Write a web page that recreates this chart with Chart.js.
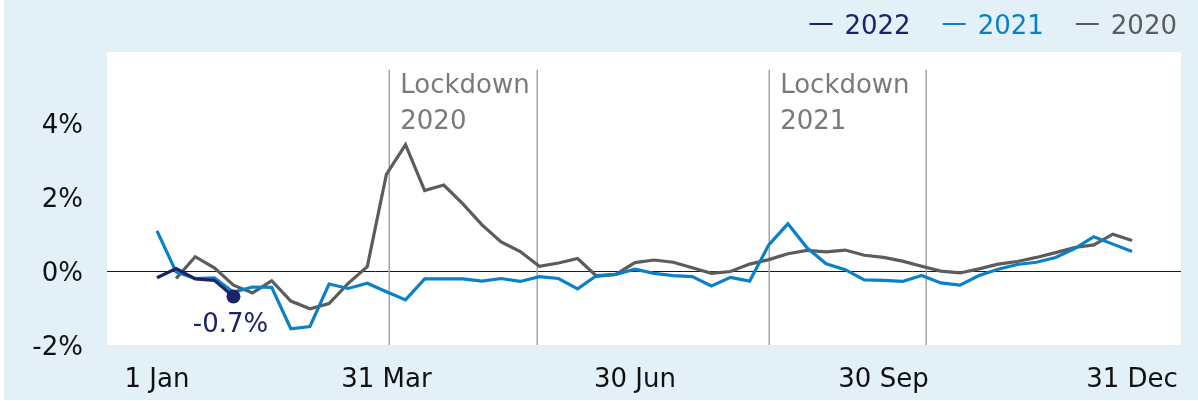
<!DOCTYPE html>
<html>
<head>
<meta charset="utf-8">
<script src="https://cdn.jsdelivr.net/npm/chart.js@4"></script>
<style>
  body { margin: 0; background: #ffffff; }
  canvas { display: block; }
</style>
</head>
<body>
<canvas id="salesChart" width="1198" height="401"></canvas>
<script>
// Weekly change vs previous year, %, week 0 = 1 Jan
const series2022 = [-0.18, 0.07, -0.21, -0.25, -0.69];
const series2021 = [1.09, -0.02, -0.2, -0.18, -0.57, -0.43, -0.44, -1.56, -1.5, -0.35,
    -0.47, -0.33, -0.56, -0.78, -0.21, -0.21, -0.21, -0.27, -0.2, -0.28,
    -0.15, -0.2, -0.48, -0.12, -0.09, 0.05, -0.06, -0.12, -0.15, -0.4,
    -0.17, -0.27, 0.71, 1.28, 0.63, 0.2, 0.04, -0.24, -0.25, -0.28,
    -0.12, -0.32, -0.38, -0.12, 0.05, 0.18, 0.24, 0.37, 0.61, 0.93,
    0.73, 0.53];
const series2020 = [null, -0.2, 0.39, 0.09, -0.38, -0.59, -0.26, -0.81, -1.02, -0.88,
    -0.33, 0.12, 2.62, 3.42, 2.18, 2.33, 1.82, 1.25, 0.79, 0.53,
    0.13, 0.22, 0.34, -0.14, -0.09, 0.23, 0.3, 0.24, 0.09, -0.06,
    -0.01, 0.19, 0.31, 0.47, 0.56, 0.52, 0.57, 0.43, 0.37, 0.27,
    0.13, 0.0, -0.05, 0.06, 0.19, 0.26, 0.37, 0.5, 0.64, 0.71,
    1.0, 0.83];

const xTickWeeks = [0, 12, 25, 38, 51];
const xTickLabels = ['1 Jan', '31 Mar', '30 Jun', '30 Sep', '31 Dec'];
const yTicks = [-2, 0, 2, 4];

// Lockdown periods (in weeks)
const lockdownStart = [12.15, 32.02];
const lockdownEnd = [19.87, 40.23];
const lockdownNames = ['Lockdown', 'Lockdown'];
const lockdownYears = ['2020', '2021'];

const FONT = '"DejaVu Sans", Verdana, sans-serif';
const NAVY = '#1d2369';
const BLUE = '#0a80c6';
const GREY = '#5c5c5c';

function toPoints(values) {
    return values.map((v, i) => ({ x: i, y: v }));
}

// Backgrounds, lockdown lines and labels
const decorPlugin = {
    id: 'decor',
    beforeDraw(chart) {
        const ctx = chart.ctx;
        const area = chart.chartArea;
        ctx.save();
        ctx.fillStyle = '#e3f0f8';
        ctx.fillRect(4, 0, chart.width - 4, chart.height - 1);
        ctx.fillStyle = '#ffffff';
        ctx.fillRect(area.left, area.top, area.right - area.left, area.bottom - area.top);
        ctx.restore();
    },
    beforeDatasetsDraw(chart) {
        const ctx = chart.ctx;
        const x = chart.scales.x;
        const y = chart.scales.y;
        const top = y.getPixelForValue(5.45);
        ctx.save();
        ctx.strokeStyle = '#a3a3a3';
        ctx.lineWidth = 1.5;
        [...lockdownStart, ...lockdownEnd].forEach(w => {
            const px = Math.round(x.getPixelForValue(w)) + 0.25;
            ctx.beginPath();
            ctx.moveTo(px, top);
            ctx.lineTo(px, chart.chartArea.bottom);
            ctx.stroke();
        });
        ctx.fillStyle = '#7a7a7a';
        ctx.font = '26px ' + FONT;
        ctx.textAlign = 'left';
        ctx.textBaseline = 'alphabetic';
        lockdownStart.forEach((w, i) => {
            const px = x.getPixelForValue(w) + 11;
            ctx.fillText(lockdownNames[i], px, top + 23);
            ctx.fillText(lockdownYears[i], px, top + 59);
        });
        ctx.restore();
    },
    afterDatasetsDraw(chart) {
        const ctx = chart.ctx;
        // label under the latest 2022 value
        const meta = chart.getDatasetMeta(0);
        const last = meta.data[meta.data.length - 1];
        const value = series2022[series2022.length - 1];
        ctx.save();
        ctx.fillStyle = NAVY;
        ctx.font = '26px ' + FONT;
        ctx.textAlign = 'center';
        ctx.textBaseline = 'alphabetic';
        ctx.fillText(value.toFixed(1) + '%', last.x - 3, last.y + 35);

        // legend, right aligned
        let right = 1177;
        const items = chart.data.datasets.slice().reverse();
        items.forEach(ds => {
            const w = ctx.measureText(ds.label).width;
            ctx.textAlign = 'right';
            ctx.fillStyle = ds.borderColor;
            ctx.fillText(ds.label, right, 34);
            const dashEnd = right - w - 12;
            ctx.strokeStyle = ds.borderColor;
            ctx.lineWidth = 2;
            ctx.beginPath();
            ctx.moveTo(dashEnd - 23, 24);
            ctx.lineTo(dashEnd, 24);
            ctx.stroke();
            right = dashEnd - 23 - 32;
        });
        ctx.restore();
    }
};

const ctx = document.getElementById('salesChart').getContext('2d');
const salesChart = new Chart(ctx, {
    type: 'line',
    data: {
        datasets: [
            {
                label: '2022',
                data: toPoints(series2022),
                borderColor: NAVY,
                backgroundColor: NAVY,
                pointRadius: series2022.map((v, i) => i === series2022.length - 1 ? 7 : 0)
            },
            {
                label: '2021',
                data: toPoints(series2021),
                borderColor: BLUE,
                backgroundColor: BLUE,
                pointRadius: 0
            },
            {
                label: '2020',
                data: toPoints(series2020),
                borderColor: GREY,
                backgroundColor: GREY,
                pointRadius: 0
            }
        ]
    },
    options: {
        responsive: false,
        animation: false,
        devicePixelRatio: 1,
        layout: {
            padding: { top: 52, right: 17, left: 0, bottom: 0 }
        },
        elements: {
            line: { borderWidth: 3.2, tension: 0 },
            point: { hoverRadius: 0, borderWidth: 0 }
        },
        plugins: {
            legend: { display: false },
            tooltip: { enabled: false }
        },
        scales: {
            x: {
                type: 'linear',
                min: -2.615,
                max: 53.563,
                grid: { display: false },
                border: { display: false },
                afterBuildTicks: axis => {
                    axis.ticks = xTickWeeks.map(v => ({ value: v }));
                },
                afterFit: axis => { axis.height = 56; },
                ticks: {
                    autoSkip: false,
                    maxRotation: 0,
                    padding: 12,
                    color: '#111111',
                    font: { family: FONT, size: 26 },
                    callback: (value, index) => xTickLabels[index]
                }
            },
            y: {
                min: -2,
                max: 5.93,
                afterBuildTicks: axis => {
                    axis.ticks = yTicks.map(v => ({ value: v }));
                },
                afterFit: axis => { axis.width = 107; },
                grid: {
                    drawTicks: false,
                    lineWidth: 1,
                    color: c => c.tick && c.tick.value === 0 ? '#1a1a1a' : 'rgba(0,0,0,0)'
                },
                border: { display: false },
                ticks: {
                    padding: 24,
                    labelOffset: 3,
                    color: '#111111',
                    font: { family: FONT, size: 26 },
                    callback: value => value + '%'
                }
            }
        }
    },
    plugins: [decorPlugin]
});
</script>
</body>
</html>
